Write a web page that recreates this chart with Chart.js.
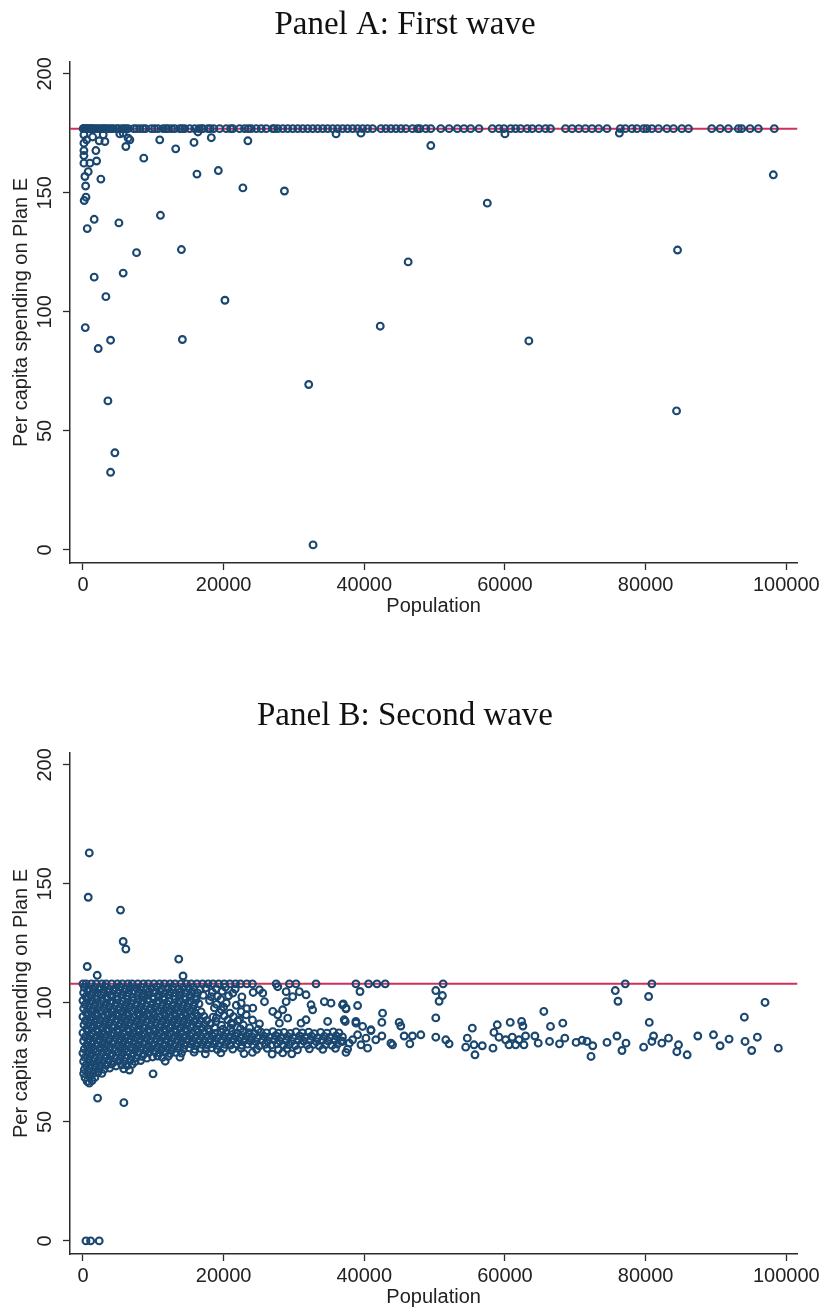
<!DOCTYPE html>
<html>
<head>
<meta charset="utf-8">
<script src="https://cdn.jsdelivr.net/npm/chart.js@4.4.1/dist/chart.umd.min.js"></script>
<style>
  html, body { margin: 0; padding: 0; background: #fff; overflow: hidden; }
  body { width: 823px; height: 1309px; position: relative; }
  canvas { position: absolute; left: 0; }
  #chartA { top: 0; }
  #chartB { top: 691px; }
</style>
</head>
<body>
<canvas id="chartA" width="823" height="640"></canvas>
<canvas id="chartB" width="823" height="618"></canvas>
<script>
// ---------------- DATA ----------------
const titleA = "Panel A: First wave";
const titleB = "Panel B: Second wave";
const xAxisTitle = "Population";
const yAxisTitle = "Per capita spending on Plan E";
const xTicks = [0, 20000, 40000, 60000, 80000, 100000];
const yTicks = [0, 50, 100, 150, 200];

// Panel A: cap (red line) and municipalities sitting on it
const capA = 177;
const waveACappedPop = [40,100,200,350,500,750,900,1100,1300,1460,1700,2030,2300,2650,2900,3100,3360,3700,4070,4300,4780,5000,5490,5800,6100,6430,7230,7600,8090,8550,8900,9740,10200,10680,11390,11800,12100,12600,13050,13760,14100,14470,15180,15890,16500,16900,17060,17770,18100,18580,19430,20380,21000,21320,22270,22980,23500,23930,24640,25350,26060,26990,27200,27700,28410,29120,29830,30540,31250,31960,32670,33380,34090,34790,35500,36210,36920,37630,38340,39050,39760,40470,41180,42370,43080,43790,44500,45210,45910,46850,47560,47900,48750,49460,50880,52060,53230,54180,55130,56310,58200,59150,59860,60810,61520,62230,63160,63870,64820,65770,66480,68610,69550,70500,71450,72380,73330,74510,76410,77120,78060,78770,79720,80180,80890,81840,83020,83970,85150,86100,89400,90600,91770,93190,93660,94850,96030,98300];
// Panel A: other municipalities [population, spending]
const waveAPoints = [[140,174.4],[140,170.9],[140,167.8],[140,165.7],[140,162.5],[280,156.9],[380,152.9],[430,148.2],[180,146.8],[520,172.3],[1380,173.5],[2310,171.9],[2880,174.4],[5720,175.1],[5250,174.8],[6430,173],[3120,171.6],[6100,169.5],[6670,172.3],[16350,175.6],[18250,173.2],[23450,171.9],[10920,172.3],[15790,171.2],[13190,168.5],[8650,164.6],[16210,157.9],[19250,159.4],[22740,152.1],[28650,150.8],[2550,155.8],[1840,167.8],[1940,163.4],[990,162.5],[750,158.9],[35990,174.8],[39530,175.1],[49460,169.9],[60000,174.8],[76270,175.1],[610,135],[1600,138.9],[1600,114.6],[3260,106.4],[5110,137.4],[5720,116.3],[7620,124.9],[11020,140.6],[14000,126.2],[20190,104.9],[46240,121],[57490,145.7],[98160,157.6],[330,93.4],[2170,84.6],[3930,88.1],[14140,88.4],[3550,62.6],[4540,40.8],[3930,32.6],[32100,69.5],[32720,2.1],[42270,94],[63400,87.8],[84540,126],[84400,58.4]];

// Panel B: cap (red line) and municipalities sitting on it
const capB = 108;
const waveBCappedPop = [0,450,1200,1900,2700,3300,4100,4900,5600,6400,7000,7800,8600,9300,10100,10900,11600,12400,13100,13900,14700,15400,16200,17000,17800,18500,19300,20100,20900,21700,22400,23300,24100,27470,29350,30300,33140,38810,40610,41800,42980,51210,77110,80890];
// Panel B: dense cloud of small municipalities [population, spending]
const waveBDense = [
[200,106.5],[850,105.9],[1650,106.4],[2350,106.0],[3150,106.7],[3750,105.8],[4650,106.3],[5250,106.8],[6150,105.9],[6750,106.4],[7650,106.1],[8250,106.6],[9050,105.8],[9750,106.2],[10550,106.7],[11250,105.9],[12050,106.3],[12750,106.6],[13550,105.8],[14250,106.4],[15050,106.0],[15750,106.5],[16650,105.7],[17450,106.3],[18950,106.0],[20250,106.6],[21650,105.8],
[100,104.3],[700,104.9],[1400,104.5],[2100,104.1],[2900,104.8],[3600,104.4],[4300,105.0],[5000,104.2],[5800,104.7],[6500,104.3],[7200,104.9],[8000,104.5],[8700,104.0],[9400,104.8],[10200,104.4],[10900,104.9],[11700,104.2],[12400,104.6],[13200,104.1],[13900,104.8],[14700,104.3],[15500,104.7],[16300,104.2],[18400,104.5],[19800,104.9],[24200,104.4],
[400,102.6],[1100,103.2],[1800,102.8],[2600,103.3],[3300,102.5],[4000,103.0],[4800,102.7],[5500,103.3],[6200,102.9],[7000,102.4],[7700,103.1],[8400,102.7],[9200,103.2],[9900,102.6],[10700,103.0],[11400,102.5],[12200,103.3],[12900,102.8],[13700,103.1],[14400,102.6],[15200,103.0],[16000,102.7],[17100,103.2],[19100,102.8],[20700,103.0],[22600,102.5],
[0,101.0],[650,101.5],[1300,100.9],[2000,101.4],[2800,101.1],[3500,101.6],[4200,100.8],[4900,101.3],[5700,100.9],[6400,101.5],[7100,101.0],[7900,101.4],[8600,100.8],[9300,101.2],[10100,101.6],[10800,100.9],[11600,101.3],[12300,100.8],[13100,101.5],[13800,101.0],[14600,101.4],[15300,100.9],[16100,101.3],[18000,101.0],[19600,101.5],
[300,99.3],[1000,99.8],[1700,99.2],[2400,99.7],[3200,99.4],[3900,99.9],[4600,99.1],[5400,99.6],[6100,99.2],[6800,99.8],[7600,99.3],[8300,99.7],[9000,99.0],[9800,99.5],[10500,99.9],[11300,99.2],[12000,99.6],[12800,99.1],[13500,99.7],[14300,99.3],[15000,99.8],[15800,99.2],[16500,99.6],[19000,99.4],[21800,99.0],
[100,97.6],[800,98.1],[1500,97.5],[2200,98.0],[3000,97.7],[3700,98.2],[4400,97.4],[5200,97.9],[5900,97.6],[6600,98.1],[7400,97.5],[8100,98.0],[8800,97.3],[9600,97.8],[10300,98.2],[11100,97.6],[11800,98.0],[12600,97.4],[13300,97.9],[14100,97.6],[14800,98.1],[15600,97.5],[18700,97.9],[20000,98.2],[23300,97.6],
[450,95.9],[1150,96.4],[1850,95.8],[2550,96.3],[3350,96.0],[4050,96.5],[4750,95.7],[5550,96.2],[6250,95.9],[6950,96.4],[7750,95.8],[8450,96.3],[9150,95.6],[9950,96.1],[10650,96.5],[11450,95.9],[12150,96.3],[12950,95.7],[13650,96.2],[14450,95.9],[15150,96.4],[15950,95.8],[16800,96.2],[19400,96.0],[20900,95.7],[22500,96.3],
[0,94.2],[700,94.7],[1400,94.1],[2100,94.6],[2900,94.3],[3600,94.8],[4300,94.0],[5100,94.5],[5800,94.2],[6500,94.7],[7300,94.1],[8000,94.6],[8700,93.9],[9500,94.4],[10200,94.8],[11000,94.2],[11700,94.6],[12500,94.0],[13200,94.5],[14000,94.2],[14700,94.7],[15500,94.1],[16300,94.5],[17200,94.3],[18500,94.0],[20100,94.6],[21400,94.2],
[350,92.5],[1050,93.0],[1750,92.4],[2450,92.9],[3250,92.6],[3950,93.1],[4650,92.3],[5450,92.8],[6150,92.5],[6850,93.0],[7650,92.4],[8350,92.9],[9050,92.2],[9850,92.7],[10550,93.1],[11350,92.5],[12050,92.9],[12850,92.3],[13550,92.8],[14350,92.5],[15050,93.0],[15850,92.4],[16650,92.8],[17600,92.6],[18900,92.2],[20600,92.9],[22000,92.4],[24100,92.8],
[150,90.8],[850,91.3],[1550,90.7],[2250,91.2],[3050,90.9],[3750,91.4],[4450,90.6],[5250,91.1],[5950,90.8],[6650,91.3],[7450,90.7],[8150,91.2],[8850,90.5],[9650,91.0],[10350,91.4],[11150,90.8],[11850,91.2],[12650,90.6],[13350,91.1],[14150,90.8],[14850,91.3],[15650,90.7],[16450,91.1],[17300,90.9],[18200,91.3],[19700,90.6],[21200,91.0],[22800,90.7],[25100,91.2],
[500,89.1],[1200,89.6],[1900,89.0],[2700,89.5],[3400,89.2],[4100,89.7],[4900,88.9],[5600,89.4],[6300,89.1],[7100,89.6],[7800,89.0],[8500,89.5],[9300,88.8],[10000,89.3],[10800,89.7],[11500,89.1],[12300,89.5],[13000,88.9],[13800,89.4],[14500,89.1],[15300,89.6],[16100,89.0],[16900,89.4],[17800,89.2],[18700,89.6],[19900,88.9],[21000,89.4],[22400,89.1],[23700,89.5],[24900,88.8],
[300,77.1],[1000,77.6],[1700,77.0],[2400,77.5],[3200,77.2],[3900,77.7],[4600,76.9],[5400,77.4],[6100,77.1],[6900,77.6],[7600,77.0],[8400,77.5],[9100,76.8],[9900,77.3],[10600,77.7],[11300,77.1],[12100,77.5],[13800,77.2],
[100,75.4],[800,75.9],[1500,75.3],[2200,75.8],[2900,75.5],[3700,76.0],[4400,75.2],[5100,75.7],[5900,75.4],[6700,75.9],[7400,75.3],[8200,75.8],[11700,75.5],
[400,73.7],[1100,74.2],[1800,73.6],[2500,74.1],[3300,73.8],[4100,74.3],[4700,73.5],[5500,74.0],[6300,73.7],[7000,74.2],
[200,72.0],[900,72.5],[1600,71.9],[2300,72.4],[3000,72.1],[3800,72.6],[5800,72.3],[6600,71.8],
[100,70.3],[700,70.8],[1400,70.2],[2100,70.7],[2700,70.4],
[300,68.6],[1000,69.1],[1700,68.7],[600,67.0],[1300,67.4],[900,66.3]
];
// Panel B: band of municipalities at 79-88 spanning to ~37000
const waveBBand = [
[0,87.4],[700,87.9],[1400,87.3],[2200,87.8],[2900,87.5],[3600,88.0],[4400,87.2],[5100,87.7],[5800,87.4],[6600,87.9],[7300,87.3],[8000,87.8],[8800,87.1],[9500,87.6],[10300,88.0],[11000,87.4],[11800,87.8],[12500,87.2],[13300,87.7],[14000,87.4],[14800,87.9],[15600,87.3],[16400,87.7],[17200,87.5],[18000,87.9],[18800,87.2],[19600,87.7],[20400,87.4],[21200,87.9],[22000,87.3],[22800,87.8],[23600,87.5],[24400,87.1],[25300,87.7],[26100,87.4],[27000,87.9],[27800,87.3],[28600,87.6],[29500,87.2],[30300,87.8],[31200,87.4],[32100,87.7],[32900,87.1],[33800,87.6],[34700,87.3],[35600,87.8],[36400,87.4],
[300,85.7],[1000,86.2],[1800,85.6],[2500,86.1],[3200,85.8],[4000,86.3],[4700,85.5],[5400,86.0],[6200,85.7],[6900,86.2],[7600,85.6],[8400,86.1],[9100,85.4],[9900,85.9],[10600,86.3],[11400,85.7],[12100,86.1],[12900,85.5],[13600,86.0],[14400,85.7],[15200,86.2],[16000,85.6],[16800,86.0],[17600,85.8],[18400,86.2],[19200,85.5],[20000,86.0],[20800,85.7],[21600,86.2],[22400,85.6],[23200,86.1],[24000,85.8],[24800,85.4],[25700,86.0],[26500,85.7],[27400,86.2],[28200,85.6],[29100,85.9],[29900,85.5],[30800,86.1],[31600,85.7],[32500,86.0],[33400,85.4],[34300,85.9],[35100,85.6],[36000,86.1],[36900,85.7],
[100,84.0],[800,84.5],[1500,83.9],[2300,84.4],[3000,84.1],[3700,84.6],[4500,83.8],[5200,84.3],[5900,84.0],[6700,84.5],[7400,83.9],[8100,84.4],[8900,83.7],[9600,84.2],[10400,84.6],[11100,84.0],[11900,84.4],[12600,83.8],[13400,84.3],[14100,84.0],[14900,84.5],[15700,83.9],[16500,84.3],[17300,84.1],[18100,84.5],[18900,83.8],[19700,84.3],[20600,84.0],[21400,84.5],[22200,83.9],[23000,84.4],[23800,84.1],[24600,83.7],[25500,84.3],[26300,84.0],[27200,84.5],[28000,83.9],[28900,84.2],[29700,83.8],[30600,84.4],[31400,84.0],[32300,84.3],[33200,83.7],[34000,84.2],[34900,83.9],[35800,84.4],[36700,84.0],
[500,82.3],[1200,82.8],[1900,82.2],[2700,82.7],[3400,82.4],[4100,82.9],[4900,82.1],[5600,82.6],[6300,82.3],[7100,82.8],[7800,82.2],[8500,82.7],[9300,82.0],[10000,82.5],[10800,82.9],[11500,82.3],[12300,82.7],[13000,82.1],[13800,82.6],[14500,82.3],[15300,82.8],[16100,82.2],[16900,82.6],[17700,82.4],[18500,82.8],[19300,82.1],[20200,82.6],[21000,82.3],[21800,82.8],[22600,82.2],[23400,82.7],[24200,82.4],[25100,82.0],[25900,82.6],[26800,82.3],[27600,82.8],[28500,82.2],[29300,82.5],[30200,82.1],[31000,82.7],[31900,82.3],[32800,82.6],[33600,82.0],[34500,82.5],[35400,82.2],[36200,82.7],
[200,80.6],[900,81.1],[1600,80.5],[2400,81.0],[3100,80.7],[3800,81.2],[4600,80.4],[5300,80.9],[6000,80.6],[6800,81.1],[7500,80.5],[8200,81.0],[9000,80.3],[9700,80.8],[10500,81.2],[11200,80.6],[12000,81.0],[12700,80.4],[13500,80.9],[14300,80.6],[15100,81.1],[15900,80.5],[16700,80.9],[17500,80.7],[18300,81.1],[19100,80.4],[20000,80.9],[21300,80.6],[22500,81.0],[24700,80.5],[26200,80.9],[27800,80.4],[29000,80.8],[30500,80.3],[32200,80.7],[34100,80.5],[35900,80.9],
[0,78.9],[700,79.4],[1300,78.8],[2000,79.3],[2800,79.0],[3500,79.5],[4200,78.7],[5000,79.2],[5700,78.9],[6400,79.4],[7200,78.8],[7900,79.3],[8700,78.6],[9400,79.1],[10200,79.5],[10900,78.9],[11700,79.3],[12400,78.7],[13200,79.2],[14000,78.9],[15800,79.3],[17400,78.6],[19600,79.0],[22900,78.7],[24100,79.2],[26900,78.5],[28400,79.0],[29700,78.6]
];
// Panel B: scattered mid-size and large municipalities and outliers
const waveBScattered = [
[25570,104.1],[25100,105.5],[25810,100.5],[27700,106.8],[28890,104.7],[29820,102.6],[30770,104.7],[31720,103.4],[32430,99.2],[34320,100.5],[35270,99.9],[36910,99.2],[37400,97.8],[24150,97.8],[26990,96.4],[27700,95],[28400,97.1],[28890,100.5],[27930,91.5],[29110,93.6],[31010,91.5],[31720,92.9],[32660,97.1],[34790,92.2],[37150,92.9],[38810,92.2],[23210,95],[22500,99.9],[21310,104.1],[20380,99.9],[19670,97.1],[18960,93.6],[18250,102.6],[22260,92.9],[21090,91.5],
[39390,104.8],[37020,99.6],[37400,97.5],[39050,98.9],[37300,92.2],[38820,91.5],[39760,90.1],[40950,88.4],[42600,95.7],[42500,91.8],[44960,91.8],[45190,90.3],[50170,105.2],[51110,103.1],[50640,100.7],[50170,93.7],[65530,96.4],[66480,90.1],[68230,91.5],[75690,105.2],[76070,100.7],[80430,102.7],[80520,91.8],[94040,94],[96980,100.2],[98870,81],[95080,80],[94140,83.8],[95890,85.6],[91870,84.8],[90590,82],[89650,86.6],[87420,86.1],[85910,78.2],[84680,82.4],[84440,79.5],[83260,85.2],[82310,83.1],[81130,86.1],[80890,83.8],[79720,81.4],[76640,80],[77210,83.1],[75930,86.1],[74510,83.4],[72240,77.5],[72480,82],[71670,83.8],[70970,84.3],[70120,83.4],[68510,85.2],[67760,82.8],[66340,83.8],[64730,83.1],[64260,86.1],[62930,86.1],[62370,92.2],[62550,90.3],[60750,91.8],[58910,90.8],[58440,87.6],[59150,85.6],[60100,84.5],[61040,85.6],[61520,82.4],[60570,82.4],[62700,82.4],[61990,84.5],[58300,81],[56780,82],[55740,78.2],[55360,89.4],[54650,85.2],[54420,81.4],[55600,82.4],[52060,82.8],[51590,84.5],[50170,85.6],[48040,86.6],[46850,86.1],[46480,82.8],[45670,86.1],[44020,82.4],[43790,83.1],[42500,86.1],[41640,84.5],[40950,88.7],[40470,81],[40240,85.2],[39530,82.4],[39050,86.6],[38340,84.5],[37630,80.6],[37400,79.2],[36920,83.8],[37870,83.1],
[900,163],[750,144.4],[5340,139],[5720,125.8],[6100,122.6],[610,115.3],[2030,111.6],[13620,118.4],[14230,111.3],[9970,70.2],[2080,60],[5820,58.1],[430,0],[1090,0],[2310,0]
];

// ---------------- STYLE / CHART ----------------
const navy = '#1a476f';
const capColor = '#cf2f5b';
const axisColor = '#2b2b2b';
const textColor = '#222';
Chart.defaults.font.family = "'Liberation Sans', Arial, sans-serif";
Chart.defaults.color = textColor;

const capLinePlugin = {
  id: 'capLine',
  beforeDatasetsDraw(chart, args, opts) {
    const {ctx, chartArea, scales} = chart;
    const py = scales.y.getPixelForValue(opts.value);
    ctx.save();
    ctx.strokeStyle = opts.color;
    ctx.lineWidth = 2;
    ctx.beginPath();
    ctx.moveTo(chartArea.left, py);
    ctx.lineTo(chartArea.right, py);
    ctx.stroke();
    ctx.restore();
  }
};

function toXY(pairs) { return pairs.map(p => ({x: p[0], y: p[1]})); }

function makeChart(id, titleText, cap, cappedPop, pointSets, bottomPad) {
  const pts = cappedPop.map(p => ({x: p, y: cap}));
  pointSets.forEach(s => { toXY(s).forEach(o => pts.push(o)); });
  return new Chart(document.getElementById(id), {
    type: 'scatter',
    data: {
      datasets: [{
        data: pts,
        pointStyle: 'circle',
        pointRadius: 3.4,
        pointBorderWidth: 2.1,
        pointBackgroundColor: 'rgba(255,255,255,0)',
        pointBorderColor: navy,
        showLine: false
      }]
    },
    options: {
      responsive: false,
      animation: false,
      events: [],
      layout: { padding: { left: 11, right: 24, top: 0, bottom: bottomPad } },
      plugins: {
        legend: { display: false },
        tooltip: { enabled: false },
        title: {
          display: true,
          text: titleText,
          color: '#111',
          font: { family: "'Liberation Serif', 'Times New Roman', serif", size: 33, weight: 'normal', lineHeight: 1.2 },
          padding: { top: 6, bottom: 16.4 }
        },
        capLine: { value: cap, color: capColor }
      },
      scales: {
        x: {
          type: 'linear',
          min: -1840,
          max: 101560,
          afterBuildTicks: s => { s.ticks = xTicks.map(v => ({value: v})); },
          afterFit: s => { s.height = 55; },
          border: { display: true, color: axisColor, width: 1.5 },
          grid: { drawOnChartArea: false, drawTicks: true, tickLength: 7, tickColor: axisColor, tickWidth: 1.3 },
          ticks: { font: { size: 20 }, color: textColor, padding: 3, maxRotation: 0, minRotation: 0,
                   callback: v => String(v) },
          title: { display: true, text: xAxisTitle, color: textColor, font: { size: 20, lineHeight: 1.2 }, padding: 0 }
        },
        y: {
          type: 'linear',
          min: -5.5,
          max: 205,
          afterBuildTicks: s => { s.ticks = yTicks.map(v => ({value: v})); },
          afterFit: s => { s.width = 59; },
          border: { display: true, color: axisColor, width: 1.5 },
          grid: { drawOnChartArea: false, drawTicks: true, tickLength: 7, tickColor: axisColor, tickWidth: 1.3 },
          ticks: { font: { size: 20 }, color: textColor, padding: 1, minRotation: 90, maxRotation: 90,
                   crossAlign: 'center', callback: v => String(v) },
          title: { display: true, text: yAxisTitle, color: textColor, font: { size: 20, lineHeight: 1 }, padding: 0 }
        }
      }
    },
    plugins: [capLinePlugin]
  });
}

makeChart('chartA', titleA, capA, waveACappedPop, [waveAPoints], 22);
makeChart('chartB', titleB, capB, waveBCappedPop, [waveBDense, waveBBand, waveBScattered], 0);
</script>
</body>
</html>
